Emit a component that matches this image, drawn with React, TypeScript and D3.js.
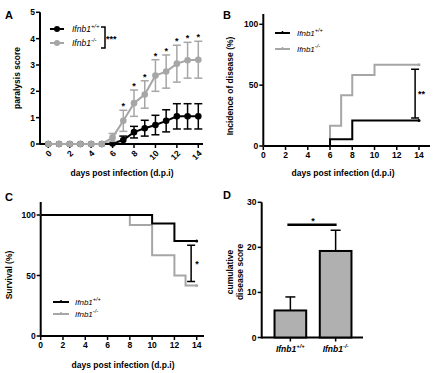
import React, {useEffect, useRef} from "react";
import * as d3 from "d3";

// panel A - paralysis score (mean +/- error)
const daysA = [0, 1, 2, 3, 4, 5, 6, 7, 8, 9, 10, 11, 12, 13, 14];
const wtMean = [0, 0, 0, 0, 0, 0, 0.02, 0.15, 0.45, 0.6, 0.72, 0.88, 1.05, 1.05, 1.05];
const wtErr = [0, 0, 0, 0, 0, 0, 0, 0.15, 0.22, 0.3, 0.37, 0.42, 0.48, 0.48, 0.48];
const koMean = [0, 0, 0, 0, 0, 0, 0.25, 0.88, 1.55, 1.88, 2.6, 2.75, 3.05, 3.18, 3.2];
const koErr = [0, 0, 0, 0, 0, 0, 0.15, 0.4, 0.5, 0.52, 0.6, 0.63, 0.7, 0.68, 0.7];
const starDaysA = [7, 8, 9, 10, 11, 12, 13, 14];

// panel B - incidence of disease (%)
const incWtDays = [0, 6, 8, 14];
const incWt = [0, 5.5, 21, 21];
const incKoDays = [0, 6, 7, 8, 10, 14];
const incKo = [0, 16.7, 41.7, 58.3, 66.7, 66.7];

// panel C - survival (%)
const survWtDays = [0, 10, 12, 14];
const survWt = [100, 92.9, 78.6, 78.6];
const survKoDays = [0, 8, 10, 12, 13, 14];
const survKo = [100, 91.7, 66.7, 50, 41.7, 41.7];

// panel D - cumulative disease score
const groups = ["wt", "ko"];
const cumMean = [6, 19.2];
const cumErr = [3, 4.6];

const BLACK = "#000";
const GREY = "#a6a6a6";
const FONT = "Liberation Sans, Arial, sans-serif";

export default function App() {
    const svgRef = useRef(null);

    useEffect(() => {
        const svg = d3.select(svgRef.current);
        svg.selectAll("*").remove();

        const txt = (x, y, s, size, opts = {}) => svg.append("text")
            .attr("x", x).attr("y", y)
            .attr("font-family", FONT)
            .attr("font-size", size)
            .attr("font-weight", opts.weight || "bold")
            .attr("font-style", opts.italic ? "italic" : "normal")
            .attr("text-anchor", opts.anchor || "start")
            .attr("fill", opts.fill || BLACK)
            .text(s);

        const gene = (x, y, sup, size, anchor = "start", weight = "normal") => {
            const t = svg.append("text")
                .attr("x", x).attr("y", y)
                .attr("font-family", FONT)
                .attr("font-size", size)
                .attr("font-style", "italic")
                .attr("font-weight", weight)
                .attr("text-anchor", anchor);
            t.append("tspan").text("Ifnb1");
            t.append("tspan").attr("dy", -4).attr("font-size", size * 0.7).text(sup);
        };

        // axes helper, Prism-style thick black lines
        const drawAxes = (x, y, xTicks, yTicks, xExtent, yExtent, rotate) => {
            const g = svg.append("g");
            const y0 = y.range()[0];
            const x0 = xExtent[0];
            g.append("line").attr("x1", x0).attr("x2", x0).attr("y1", yExtent[1]).attr("y2", y0 + 0.5)
                .attr("stroke", BLACK).attr("stroke-width", 2);
            g.append("line").attr("x1", x0).attr("x2", xExtent[1]).attr("y1", y0).attr("y2", y0)
                .attr("stroke", BLACK).attr("stroke-width", 2);
            yTicks.forEach(v => {
                g.append("line").attr("x1", x0 - 4).attr("x2", x0).attr("y1", y(v)).attr("y2", y(v))
                    .attr("stroke", BLACK).attr("stroke-width", 1.5);
                g.append("text").attr("x", x0 - 5).attr("y", y(v) + 3)
                    .attr("text-anchor", "end").attr("font-family", FONT)
                    .attr("font-size", 8.5).attr("font-weight", "bold").text(v);
            });
            xTicks.forEach(v => {
                g.append("line").attr("x1", x(v)).attr("x2", x(v)).attr("y1", y0).attr("y2", y0 + 4)
                    .attr("stroke", BLACK).attr("stroke-width", 1.5);
                if (rotate) {
                    g.append("text")
                        .attr("transform", `translate(${x(v) + 4},${y0 + 10}) rotate(-45)`)
                        .attr("text-anchor", "end").attr("font-family", FONT)
                        .attr("font-size", 8.5).attr("font-weight", "bold").text(v);
                } else {
                    g.append("text").attr("x", x(v)).attr("y", y0 + 12)
                        .attr("text-anchor", "middle").attr("font-family", FONT)
                        .attr("font-size", 8.5).attr("font-weight", "bold").text(v);
                }
            });
        };

        const yLabel = (x, y, s) => svg.append("text")
            .attr("transform", `translate(${x},${y}) rotate(-90)`)
            .attr("text-anchor", "middle").attr("font-family", FONT)
            .attr("font-size", 8.5).attr("font-weight", "bold").text(s);

        const evenDays = d3.range(0, 15, 2);

        // ---------- A ----------
        const xA = d3.scaleLinear().domain([0, 14]).range([48.3, 198.3]);
        const yA = d3.scaleLinear().domain([0, 5]).range([144, 12.3]);
        drawAxes(xA, yA, evenDays, [0, 1, 2, 3, 4, 5], [40, 203], [144, 12.3], true);
        txt(5, 19, "A", 11);
        yLabel(20, 78, "paralysis score");
        txt(122, 176, "days post infection (d.p.i)", 8.5, {anchor: "middle"});

        const lineA = d3.line().x((d, i) => xA(daysA[i])).y(d => yA(d));
        [[wtMean, wtErr, BLACK], [koMean, koErr, GREY]].forEach(([m, e, c]) => {
            const g = svg.append("g");
            m.forEach((v, i) => {
                if (e[i] > 0) {
                    const cx = xA(daysA[i]);
                    g.append("line").attr("x1", cx).attr("x2", cx).attr("y1", yA(v - e[i])).attr("y2", yA(v + e[i]))
                        .attr("stroke", c).attr("stroke-width", 1.5);
                    [v - e[i], v + e[i]].forEach(w => g.append("line")
                        .attr("x1", cx - 4).attr("x2", cx + 4).attr("y1", yA(w)).attr("y2", yA(w))
                        .attr("stroke", c).attr("stroke-width", 1.5));
                }
            });
            g.append("path").attr("d", lineA(m)).attr("fill", "none").attr("stroke", c).attr("stroke-width", 2);
            g.selectAll("circle").data(m).join("circle")
                .attr("cx", (d, i) => xA(daysA[i])).attr("cy", d => yA(d)).attr("r", 3.3).attr("fill", c);
        });
        starDaysA.forEach(dd => {
            const i = daysA.indexOf(dd);
            txt(xA(dd), yA(koMean[i] + koErr[i]) - 1, "*", 9, {anchor: "middle"});
        });
        // legend A
        [[BLACK, 29, "+/+"], [GREY, 43, "-/-"]].forEach(([c, ly, sup]) => {
            svg.append("line").attr("x1", 50).attr("x2", 64).attr("y1", ly).attr("y2", ly)
                .attr("stroke", c).attr("stroke-width", 2);
            svg.append("circle").attr("cx", 57).attr("cy", ly).attr("r", 3).attr("fill", c);
            gene(72, ly + 3, sup, 8.5);
        });
        svg.append("path").attr("d", "M101,27H105V48H101").attr("fill", "none").attr("stroke", BLACK).attr("stroke-width", 1.5);
        txt(106, 42, "***", 9);

        // ---------- B ----------
        const xB = d3.scaleLinear().domain([0, 14]).range([263.3, 419]);
        const yB = d3.scaleLinear().domain([0, 100]).range([146, 24.3]);
        drawAxes(xB, yB, evenDays, [0, 50, 100], [263.3, 430], [146, 14], false);
        txt(223, 19, "B", 11);
        yLabel(233, 86, "Incidence of disease (%)");
        txt(343, 176, "days post infection (d.p.i)", 8.5, {anchor: "middle"});
        const step = (xs, sx, sy) => d3.line().curve(d3.curveStepAfter).x((d, i) => sx(xs[i])).y(d => sy(d));
        svg.append("path").attr("d", step(incKoDays, xB, yB)(incKo)).attr("fill", "none").attr("stroke", GREY).attr("stroke-width", 2);
        svg.append("path").attr("d", step(incWtDays, xB, yB)(incWt)).attr("fill", "none").attr("stroke", BLACK).attr("stroke-width", 2);
        svg.append("circle").attr("cx", xB(14)).attr("cy", yB(66.7)).attr("r", 1.5).attr("fill", GREY);
        svg.append("circle").attr("cx", xB(14)).attr("cy", yB(21)).attr("r", 1.5).attr("fill", BLACK);
        const ebB = xB(13.65);
        svg.append("path").attr("d", `M${ebB - 4},${yB(63)}H${ebB + 4}M${ebB},${yB(63)}V${yB(23)}M${ebB - 4},${yB(23)}H${ebB + 4}`)
            .attr("stroke", BLACK).attr("stroke-width", 1.5).attr("fill", "none");
        txt(ebB + 3, yB(40), "**", 9);
        [[BLACK, 33, "+/+"], [GREY, 49, "-/-"]].forEach(([c, ly, sup]) => {
            svg.append("line").attr("x1", 275).attr("x2", 290).attr("y1", ly).attr("y2", ly)
                .attr("stroke", c).attr("stroke-width", 2);
            svg.append("line").attr("x1", 282.5).attr("x2", 282.5).attr("y1", ly - 2).attr("y2", ly)
                .attr("stroke", c).attr("stroke-width", 1.5);
            gene(297, ly + 3, sup, 8);
        });

        // ---------- C ----------
        const xC = d3.scaleLinear().domain([0, 14]).range([40.7, 196.7]);
        const yC = d3.scaleLinear().domain([0, 100]).range([336, 215]);
        drawAxes(xC, yC, evenDays, [0, 50, 100], [40.7, 204], [336, 202], false);
        txt(5, 201, "C", 11);
        yLabel(12, 275, "Survival (%)");
        txt(123, 368, "days post infection (d.p.i)", 8.5, {anchor: "middle"});
        svg.append("path").attr("d", step(survKoDays, xC, yC)(survKo)).attr("fill", "none").attr("stroke", GREY).attr("stroke-width", 2);
        svg.append("path").attr("d", step(survWtDays, xC, yC)(survWt)).attr("fill", "none").attr("stroke", BLACK).attr("stroke-width", 2);
        svg.append("circle").attr("cx", xC(14)).attr("cy", yC(41.7)).attr("r", 1.5).attr("fill", GREY);
        svg.append("circle").attr("cx", xC(14)).attr("cy", yC(78.6)).attr("r", 1.5).attr("fill", BLACK);
        const ebC = xC(13.5);
        svg.append("path").attr("d", `M${ebC - 4},${yC(75)}H${ebC + 4}M${ebC},${yC(75)}V${yC(45)}M${ebC - 4},${yC(45)}H${ebC + 4}`)
            .attr("stroke", BLACK).attr("stroke-width", 1.5).attr("fill", "none");
        txt(ebC + 4, yC(57), "*", 9);
        [[BLACK, 302, "+/+"], [GREY, 314, "-/-"]].forEach(([c, ly, sup]) => {
            svg.append("line").attr("x1", 53).attr("x2", 69).attr("y1", ly).attr("y2", ly)
                .attr("stroke", c).attr("stroke-width", 2);
            svg.append("line").attr("x1", 61).attr("x2", 61).attr("y1", ly - 2).attr("y2", ly)
                .attr("stroke", c).attr("stroke-width", 1.5);
            gene(75, ly + 3, sup, 8);
        });

        // ---------- D ----------
        const xD = d3.scaleBand().domain(groups).range([270, 356]).paddingInner(0.3).paddingOuter(0.1);
        const yD = d3.scaleLinear().domain([0, 30]).range([337.5, 202.3]);
        txt(223, 199, "D", 11);
        svg.append("line").attr("x1", 261.7).attr("x2", 261.7).attr("y1", yD(30)).attr("y2", yD(0) + 1)
            .attr("stroke", BLACK).attr("stroke-width", 2);
        svg.append("line").attr("x1", 261.7).attr("x2", 363).attr("y1", yD(0)).attr("y2", yD(0))
            .attr("stroke", BLACK).attr("stroke-width", 2);
        [0, 10, 20, 30].forEach(v => {
            svg.append("line").attr("x1", 257.7).attr("x2", 261.7).attr("y1", yD(v)).attr("y2", yD(v))
                .attr("stroke", BLACK).attr("stroke-width", 1.5);
            txt(256.5, yD(v) + 3, String(v), 8.5, {anchor: "end"});
        });
        groups.forEach((gname, i) => {
            const bx = xD(gname), bw = xD.bandwidth(), cx = bx + bw / 2;
            svg.append("line").attr("x1", cx).attr("x2", cx).attr("y1", yD(cumMean[i])).attr("y2", yD(cumMean[i] + cumErr[i]))
                .attr("stroke", BLACK).attr("stroke-width", 1.5);
            svg.append("line").attr("x1", cx - 5).attr("x2", cx + 5).attr("y1", yD(cumMean[i] + cumErr[i])).attr("y2", yD(cumMean[i] + cumErr[i]))
                .attr("stroke", BLACK).attr("stroke-width", 1.5);
            svg.append("rect").attr("x", bx).attr("y", yD(cumMean[i])).attr("width", bw).attr("height", yD(0) - yD(cumMean[i]))
                .attr("fill", "#b0b0b0").attr("stroke", BLACK).attr("stroke-width", 2);
            svg.append("line").attr("x1", cx).attr("x2", cx).attr("y1", yD(0)).attr("y2", yD(0) + 4)
                .attr("stroke", BLACK).attr("stroke-width", 1.5);
            gene(cx, yD(0) + 14, i === 0 ? "+/+" : "-/-", 8.5, "middle", "bold");
        });
        const c1 = xD("wt") + xD.bandwidth() / 2, c2 = xD("ko") + xD.bandwidth() / 2;
        svg.append("line").attr("x1", c1 - 3).attr("x2", c2 + 1).attr("y1", yD(25)).attr("y2", yD(25))
            .attr("stroke", BLACK).attr("stroke-width", 2.5);
        txt((c1 + c2) / 2, yD(25) - 1, "*", 9, {anchor: "middle"});
        svg.append("text").attr("transform", `translate(233,272) rotate(-90)`)
            .attr("text-anchor", "middle").attr("font-family", FONT).attr("font-size", 8.5).attr("font-weight", "bold")
            .call(t => {
                t.append("tspan").attr("x", 0).attr("dy", 0).text("cumulative");
                t.append("tspan").attr("x", 0).attr("dy", 10).text("disease score");
            });
    }, []);

    return (
        <svg ref={svgRef} width={440} height={373}
             style={{position: "absolute", left: 0, top: 0, background: "white"}} />
    );
}
